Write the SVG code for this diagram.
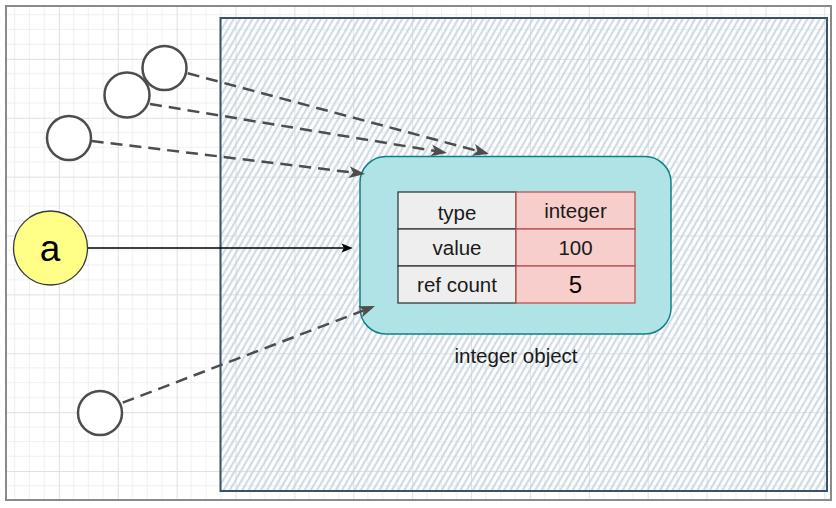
<svg xmlns="http://www.w3.org/2000/svg" width="836" height="508" viewBox="0 0 836 508">
  <defs>
    <pattern id="grid" x="0" y="0" width="58.88" height="58.88" patternUnits="userSpaceOnUse">
      <path d="M14.72,0 V58.88 M29.44,0 V58.88 M44.16,0 V58.88 M0,14.72 H58.88 M0,29.44 H58.88 M0,44.16 H58.88" stroke="#f0f0f0" stroke-width="1" fill="none"/>
      <path d="M0.5,0 V58.88 M0,0.5 H58.88" stroke="#e0e0e0" stroke-width="1" fill="none"/>
    </pattern>
    <pattern id="hatch" x="0" y="0" width="5.4" height="10" patternUnits="userSpaceOnUse" patternTransform="rotate(30)">
      <line x1="1.3" y1="-1" x2="1.3" y2="11" stroke="#c6d4e0" stroke-width="1.8"/>
    </pattern>
    <marker id="arrDash" viewBox="-5 -7 18 14" refX="0" refY="0" markerWidth="18" markerHeight="14" markerUnits="userSpaceOnUse" orient="auto">
      <path d="M-4,-6 L12,0 L-4,6 L0,0 Z" fill="#4d4d4d"/>
    </marker>
    <marker id="arrSolid" viewBox="-4 -6 14 12" refX="0" refY="0" markerWidth="14" markerHeight="12" markerUnits="userSpaceOnUse" orient="auto">
      <path d="M-2,-4.5 L9,0 L-2,4.5 L0,0 Z" fill="#000000"/>
    </marker>
    <style>
      .ref { fill: #ffffff; stroke: #4d4d4d; stroke-width: 2.5; }
      .dash { fill: none; stroke: #4d4d4d; stroke-width: 2.5; stroke-dasharray: 12 7; marker-end: url(#arrDash); }
      .solid { fill: none; stroke: #000000; stroke-width: 1.3; marker-end: url(#arrSolid); }
      .lbl { font-family: "Liberation Sans", Arial, sans-serif; font-size: 20.5px; fill: #1a1a1a; text-anchor: middle; dominant-baseline: central; }
      .kcell { fill: #eeeeee; stroke: #36393d; stroke-width: 1.3; }
      .vcell { fill: #f8cecc; stroke: #b85450; stroke-width: 1.3; }
    </style>
  </defs>

  <rect x="0" y="0" width="836" height="508" fill="#ffffff"/>
  <rect x="6" y="6" width="825" height="494" fill="url(#grid)"/>
  <rect x="6" y="6" width="825" height="494" fill="none" stroke="#8a8a8a" stroke-width="2"/>

  <g id="heap">
    <rect x="220.5" y="18" width="606.5" height="473" fill="url(#hatch)" stroke="#3a5169" stroke-width="2"/>
  </g>

  <g id="integer-object">
    <rect x="360" y="156.5" width="311" height="177.5" rx="26" ry="26" fill="#b0e3e6" stroke="#0e8088" stroke-width="1.5"/>
    <text class="lbl" x="516" y="355">integer object</text>
  </g>

  <g id="table">
    <rect class="kcell" x="398" y="192" width="118" height="37"/>
    <rect class="vcell" x="516" y="192" width="119" height="37"/>
    <rect class="kcell" x="398" y="229" width="118" height="37"/>
    <rect class="vcell" x="516" y="229" width="119" height="37"/>
    <rect class="kcell" x="398" y="266" width="118" height="37"/>
    <rect class="vcell" x="516" y="266" width="119" height="37"/>
    <text class="lbl" x="457" y="212">type</text>
    <text class="lbl" x="575.5" y="210">integer</text>
    <text class="lbl" x="457" y="247.5">value</text>
    <text class="lbl" x="575.5" y="247.5">100</text>
    <text class="lbl" x="457" y="284.5">ref count</text>
    <text class="lbl" x="575.5" y="284.5" style="font-size:24px;fill:#000">5</text>
  </g>

  <g id="var-a">
    <circle cx="50.5" cy="248" r="37" fill="#ffff88" stroke="#36393d" stroke-width="1.3"/>
    <text class="lbl" x="50" y="248" style="font-size:37px;fill:#000">a</text>
  </g>

  <g id="ref1"><circle class="ref" cx="164.5" cy="68" r="22"/></g>
  <g id="ref2"><circle class="ref" cx="127" cy="95" r="22.5"/></g>
  <g id="ref3"><circle class="ref" cx="69" cy="138" r="22"/></g>
  <g id="ref4"><circle class="ref" cx="100" cy="413" r="22"/></g>

  <g id="connectors">
    <line class="solid" x1="88" y1="248" x2="343.7" y2="248"/>
    <line class="dash" x1="187.7" y1="73.3" x2="477.4" y2="150.9"/>
    <line class="dash" x1="150" y1="104" x2="435.2" y2="151"/>
    <line class="dash" x1="91.7" y1="141" x2="353.1" y2="172.6"/>
    <line class="dash" x1="122.7" y1="402.7" x2="363.8" y2="310.3"/>
  </g>
</svg>
